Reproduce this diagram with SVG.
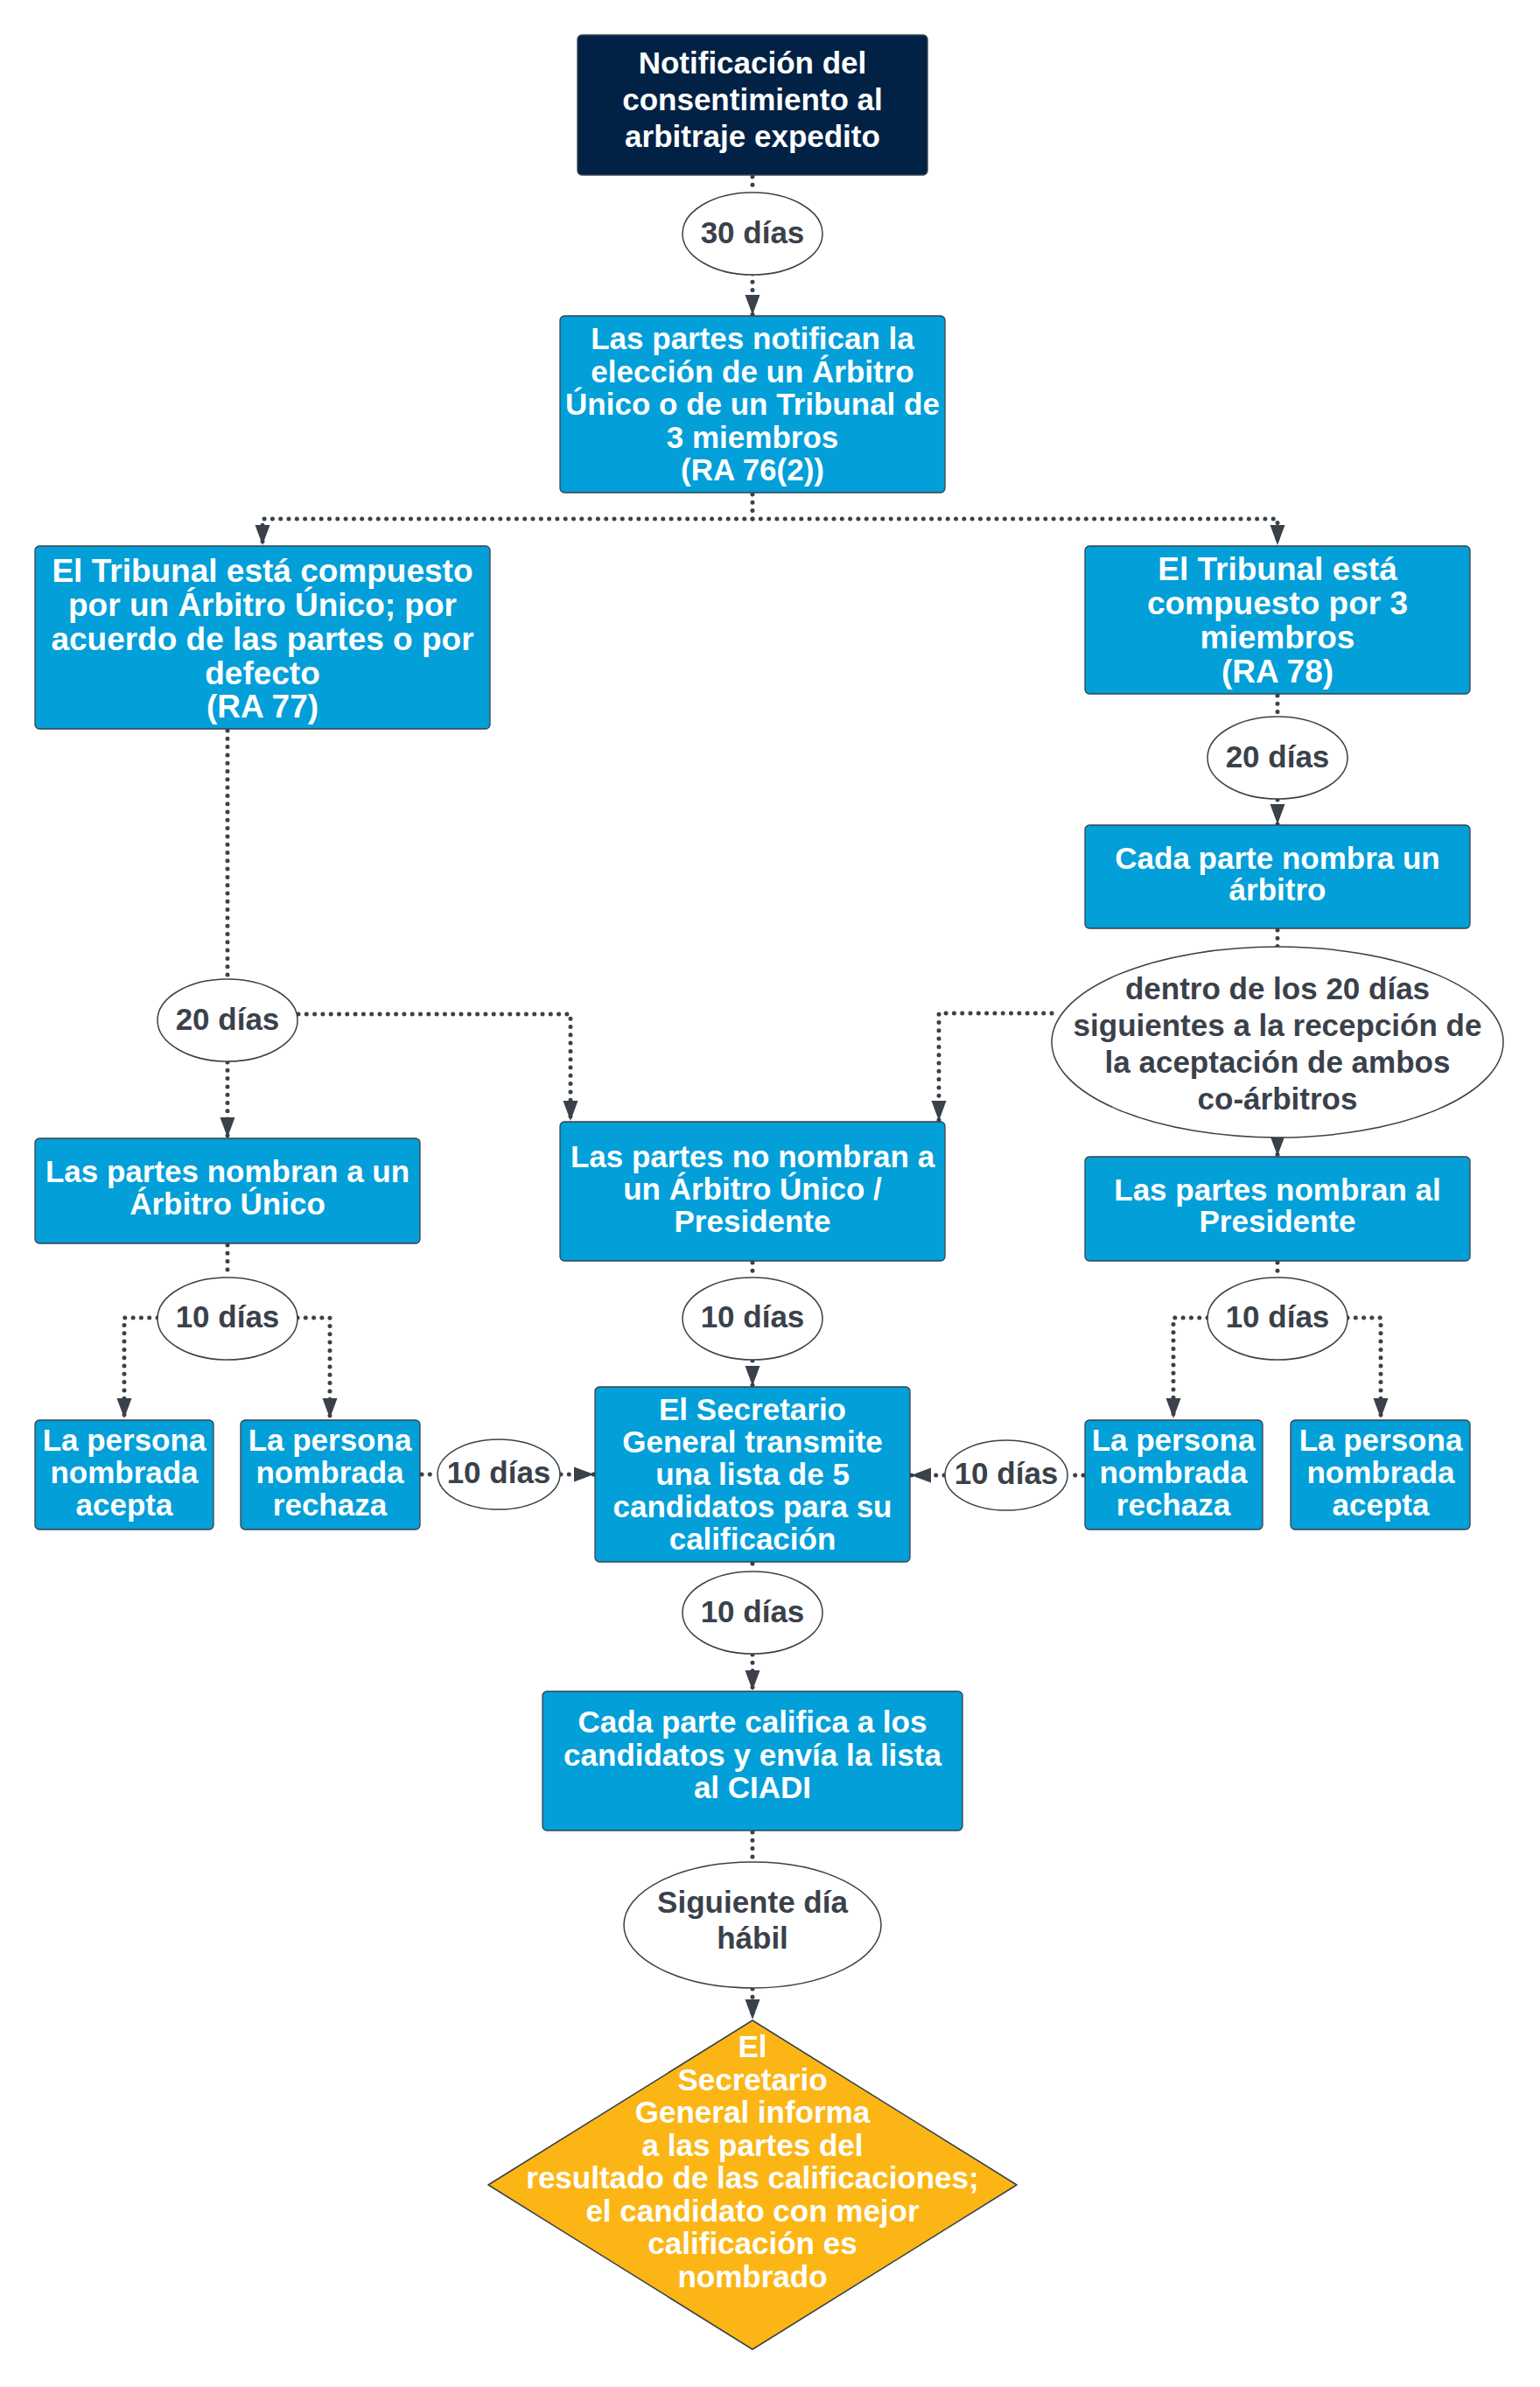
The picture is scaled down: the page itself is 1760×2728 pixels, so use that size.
<svg xmlns="http://www.w3.org/2000/svg" width="1760" height="2728" viewBox="0 0 1760 2728">
<defs>
<marker id="ah" markerUnits="userSpaceOnUse" markerWidth="24" markerHeight="18" refX="23" refY="9" orient="auto">
<path d="M0,0.5 L23,9 L0,17.5 z" fill="#3a414a"/>
</marker>
<style>
.bg{fill:#ffffff}
.box{fill:#029fd9;stroke:#3a414a;stroke-width:1.3}
.dark{fill:#012245;stroke:#3a414a;stroke-width:1.3}
.ell{fill:#ffffff;stroke:#3a414a;stroke-width:1.5}
.dia{fill:#fbb616;stroke:#3a414a;stroke-width:1.5;stroke-linejoin:round}
.tw{font-family:"Liberation Sans",Arial,sans-serif;font-weight:bold;font-size:35px;fill:#ffffff;text-anchor:middle}
.big{font-size:37px}
.td{font-family:"Liberation Sans",Arial,sans-serif;font-weight:bold;font-size:35px;fill:#3a414a;text-anchor:middle}
.c{fill:none;stroke:#3a414a;stroke-width:5;stroke-linecap:round;stroke-linejoin:round;stroke-dasharray:0 9.3}
.a{marker-end:url(#ah)}
</style>
</defs>
<rect class="bg" x="0" y="0" width="1760" height="2728"/>

<g id="connectors">
<path class="c" d="M860,202 L860,220"/>
<path class="c a" d="M860,313 L860,360"/>
<path class="c a" d="M860,565 L860,593 L300,593 L300,623"/>
<path class="c a" d="M860,593 L1460,593 L1460,623"/>
<path class="c" d="M260,835 L260,1119"/>
<path class="c a" d="M260,1214 L260,1300"/>
<path class="c a" d="M341,1159 L652,1159 L652,1281"/>
<path class="c" d="M1460,795 L1460,819"/>
<path class="c a" d="M1460,914 L1460,942"/>
<path class="c" d="M1460,1063 L1460,1082"/>
<path class="c a" d="M1460,1301 L1460,1321"/>
<path class="c a" d="M1202,1158 L1073,1158 L1073,1281"/>
<path class="c" d="M260,1423 L260,1460"/>
<path class="c a" d="M180,1506 L142,1506 L142,1621"/>
<path class="c a" d="M340,1506 L377,1506 L377,1621"/>
<path class="c" d="M860,1443 L860,1460"/>
<path class="c a" d="M860,1555 L860,1584"/>
<path class="c" d="M1460,1443 L1460,1460"/>
<path class="c a" d="M1380,1506 L1341,1506 L1341,1621"/>
<path class="c a" d="M1540,1506 L1578,1506 L1578,1621"/>
<path class="c" d="M482,1685 L500,1685"/>
<path class="c a" d="M641,1685 L679,1685"/>
<path class="c" d="M1238,1686 L1220,1686"/>
<path class="c a" d="M1079,1686 L1041,1686"/>
<path class="c" d="M860,1787 L860,1796"/>
<path class="c a" d="M860,1891 L860,1932"/>
<path class="c" d="M860,2094 L860,2128"/>
<path class="c a" d="M860,2273 L860,2308"/>
</g>

<g id="n1">
<rect class="dark" x="660" y="40" width="400" height="160" rx="5"/>
<text class="tw" x="860" y="84">Notificación del</text>
<text class="tw" x="860" y="126">consentimiento al</text>
<text class="tw" x="860" y="168">arbitraje expedito</text>
</g>

<g id="e30">
<ellipse class="ell" cx="860" cy="267" rx="80" ry="47"/>
<text class="td" x="860" y="278">30 días</text>
</g>

<g id="n2">
<rect class="box" x="640" y="361" width="440" height="202" rx="5"/>
<text class="tw" x="860" y="399">Las partes notifican la</text>
<text class="tw" x="860" y="436.5">elección de un Árbitro</text>
<text class="tw" x="860" y="474">Único o de un Tribunal de</text>
<text class="tw" x="860" y="511.5">3 miembros</text>
<text class="tw" x="860" y="549">(RA 76(2))</text>
</g>

<g id="n3">
<rect class="box" x="40" y="624" width="520" height="209" rx="5"/>
<text class="tw big" x="300" y="665">El Tribunal está compuesto</text>
<text class="tw big" x="300" y="704">por un Árbitro Único; por</text>
<text class="tw big" x="300" y="743">acuerdo de las partes o por</text>
<text class="tw big" x="300" y="782">defecto</text>
<text class="tw big" x="300" y="820">(RA 77)</text>
</g>

<g id="n4">
<rect class="box" x="1240" y="624" width="440" height="169" rx="5"/>
<text class="tw big" x="1460" y="663">El Tribunal está</text>
<text class="tw big" x="1460" y="702">compuesto por 3</text>
<text class="tw big" x="1460" y="741">miembros</text>
<text class="tw big" x="1460" y="780">(RA 78)</text>
</g>

<g id="e20r">
<ellipse class="ell" cx="1460" cy="866" rx="80" ry="47"/>
<text class="td" x="1460" y="877">20 días</text>
</g>

<g id="n5">
<rect class="box" x="1240" y="943" width="440" height="118" rx="5"/>
<text class="tw" x="1460" y="993">Cada parte nombra un</text>
<text class="tw" x="1460" y="1029">árbitro</text>
</g>

<g id="ebig">
<ellipse class="ell" cx="1460" cy="1191" rx="258" ry="109"/>
<text class="td" x="1460" y="1142">dentro de los 20 días</text>
<text class="td" x="1460" y="1184">siguientes a la recepción de</text>
<text class="td" x="1460" y="1226">la aceptación de ambos</text>
<text class="td" x="1460" y="1268">co-árbitros</text>
</g>

<g id="n6">
<rect class="box" x="1240" y="1322" width="440" height="119" rx="5"/>
<text class="tw" x="1460" y="1372">Las partes nombran al</text>
<text class="tw" x="1460" y="1408">Presidente</text>
</g>

<g id="e20l">
<ellipse class="ell" cx="260" cy="1166" rx="80" ry="47"/>
<text class="td" x="260" y="1177">20 días</text>
</g>

<g id="n7">
<rect class="box" x="40" y="1301" width="440" height="120" rx="5"/>
<text class="tw" x="260" y="1351">Las partes nombran a un</text>
<text class="tw" x="260" y="1388">Árbitro Único</text>
</g>

<g id="n8">
<rect class="box" x="640" y="1282" width="440" height="159" rx="5"/>
<text class="tw" x="860" y="1334">Las partes no nombran a</text>
<text class="tw" x="860" y="1371">un Árbitro Único /</text>
<text class="tw" x="860" y="1408">Presidente</text>
</g>

<g id="e10l">
<ellipse class="ell" cx="260" cy="1507" rx="80" ry="47"/>
<text class="td" x="260" y="1517">10 días</text>
</g>

<g id="e10c">
<ellipse class="ell" cx="860" cy="1507" rx="80" ry="47"/>
<text class="td" x="860" y="1517">10 días</text>
</g>

<g id="e10r">
<ellipse class="ell" cx="1460" cy="1507" rx="80" ry="47"/>
<text class="td" x="1460" y="1517">10 días</text>
</g>

<g id="n9">
<rect class="box" x="40" y="1623" width="204" height="125" rx="5"/>
<text class="tw" x="142" y="1658">La persona</text>
<text class="tw" x="142" y="1695">nombrada</text>
<text class="tw" x="142" y="1732">acepta</text>
</g>

<g id="n10">
<rect class="box" x="275" y="1623" width="205" height="125" rx="5"/>
<text class="tw" x="377" y="1658">La persona</text>
<text class="tw" x="377" y="1695">nombrada</text>
<text class="tw" x="377" y="1732">rechaza</text>
</g>

<g id="e10ll">
<ellipse class="ell" cx="570" cy="1685" rx="70" ry="40"/>
<text class="td" x="570" y="1695">10 días</text>
</g>

<g id="n11">
<rect class="box" x="680" y="1585" width="360" height="200" rx="5"/>
<text class="tw" x="860" y="1623">El Secretario</text>
<text class="tw" x="860" y="1660">General transmite</text>
<text class="tw" x="860" y="1697">una lista de 5</text>
<text class="tw" x="860" y="1734">candidatos para su</text>
<text class="tw" x="860" y="1771">calificación</text>
</g>

<g id="e10lr">
<ellipse class="ell" cx="1150" cy="1686" rx="70" ry="40"/>
<text class="td" x="1150" y="1696">10 días</text>
</g>

<g id="n12">
<rect class="box" x="1240" y="1623" width="203" height="125" rx="5"/>
<text class="tw" x="1341" y="1658">La persona</text>
<text class="tw" x="1341" y="1695">nombrada</text>
<text class="tw" x="1341" y="1732">rechaza</text>
</g>

<g id="n13">
<rect class="box" x="1475" y="1623" width="205" height="125" rx="5"/>
<text class="tw" x="1578" y="1658">La persona</text>
<text class="tw" x="1578" y="1695">nombrada</text>
<text class="tw" x="1578" y="1732">acepta</text>
</g>

<g id="e10b">
<ellipse class="ell" cx="860" cy="1843" rx="80" ry="47"/>
<text class="td" x="860" y="1854">10 días</text>
</g>

<g id="n14">
<rect class="box" x="620" y="1933" width="480" height="159" rx="5"/>
<text class="tw" x="860" y="1980">Cada parte califica a los</text>
<text class="tw" x="860" y="2018">candidatos y envía la lista</text>
<text class="tw" x="860" y="2055">al CIADI</text>
</g>

<g id="esig">
<ellipse class="ell" cx="860" cy="2200" rx="147" ry="72"/>
<text class="td" x="860" y="2186">Siguiente día</text>
<text class="td" x="860" y="2227">hábil</text>
</g>

<g id="diamond">
<polygon class="dia" points="860,2309 1162,2497 860,2685 558,2497"/>
<text class="tw" x="860" y="2351">El</text>
<text class="tw" x="860" y="2388.5">Secretario</text>
<text class="tw" x="860" y="2426">General informa</text>
<text class="tw" x="860" y="2463.5">a las partes del</text>
<text class="tw" x="860" y="2501">resultado de las calificaciones;</text>
<text class="tw" x="860" y="2538.5">el candidato con mejor</text>
<text class="tw" x="860" y="2576">calificación es</text>
<text class="tw" x="860" y="2613.5">nombrado</text>
</g>
</svg>
